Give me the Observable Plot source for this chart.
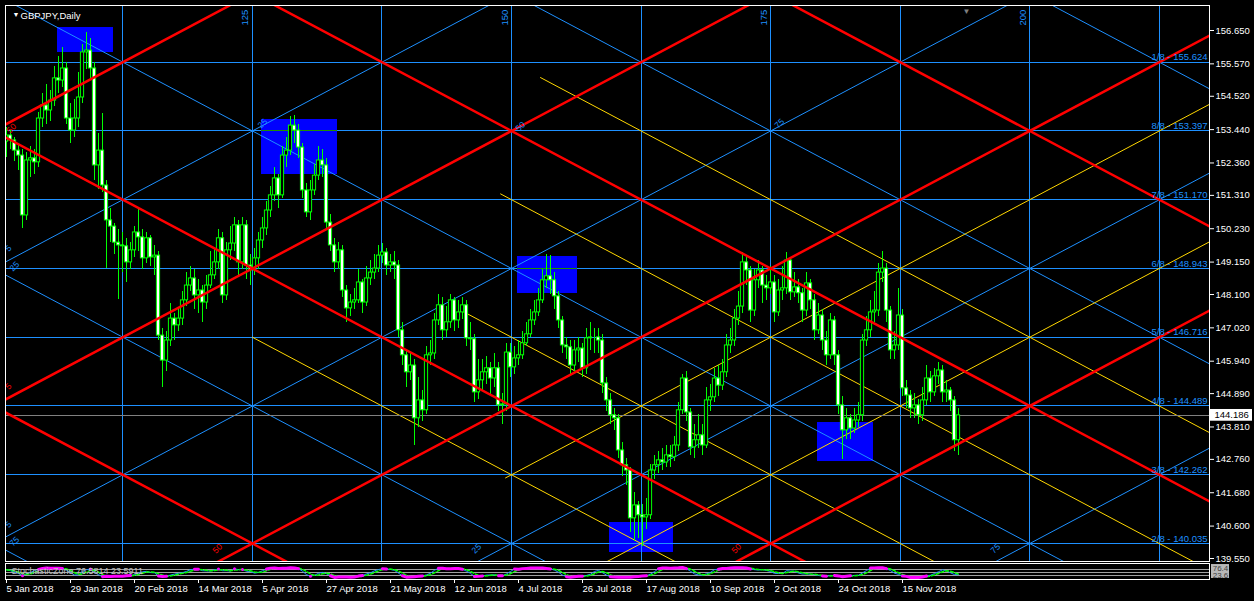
<!DOCTYPE html>
<html><head><meta charset="utf-8">
<script src="https://cdn.jsdelivr.net/npm/d3@7"></script>
<script src="https://cdn.jsdelivr.net/npm/@observablehq/plot@0.6"></script>
<style>
html,body{margin:0;padding:0;background:#000;overflow:hidden;}
#wrap{width:1254px;height:601px;overflow:hidden;background:#000;}
#wrap svg{display:block;}
</style></head><body><div id="wrap"></div>
<script>
// ---- GBPJPY daily candles (bar index 0 = 5 Jan 2018) ----
const open = [
153.05,153.25,153.09,152.76,152.60,150.66,152.44,152.51,152.38,153.80,
154.22,154.06,154.38,155.10,155.03,155.42,153.80,153.41,153.80,154.48,
155.94,156.00,155.42,152.28,152.76,151.63,150.50,150.30,149.78,149.69,
149.66,149.14,149.53,150.11,149.95,149.27,149.92,149.30,149.36,146.77,
145.96,146.61,147.32,147.10,147.32,147.91,148.39,148.62,148.07,148.23,
147.84,148.39,148.72,149.14,149.92,148.07,149.53,149.75,150.34,149.14,
150.34,149.04,148.88,149.27,149.85,150.24,150.82,151.31,151.86,151.31,
152.60,152.76,153.57,153.41,152.86,151.47,150.76,151.47,151.95,152.44,
152.28,150.43,149.69,149.14,149.53,148.23,147.65,147.84,147.91,148.49,
147.84,148.62,148.81,148.94,149.36,149.46,149.04,149.14,149.04,146.94,
146.13,145.58,145.80,144.09,144.67,144.35,146.13,146.19,147.26,147.75,
146.94,147.20,147.91,147.26,147.52,147.75,146.68,146.65,144.93,145.32,
145.58,145.71,145.38,145.71,144.51,144.54,146.22,145.74,146.03,146.13,
146.52,146.81,147.26,147.52,147.91,148.56,148.69,148.56,148.04,147.26,
146.45,146.39,145.80,146.29,146.35,145.71,146.68,146.71,146.71,146.61,
145.22,144.67,144.19,144.09,143.05,142.57,142.40,140.85,141.27,140.95,
140.88,140.95,142.40,142.57,142.73,142.66,142.89,142.83,143.21,144.35,
145.38,144.28,143.15,143.38,143.54,143.21,144.67,144.77,145.38,145.15,
145.58,146.45,146.61,147.32,147.71,149.14,148.88,147.58,148.56,148.88,
148.39,148.30,148.49,147.52,148.23,148.30,149.20,148.17,148.33,148.14,
147.58,148.46,147.91,146.94,147.42,146.61,146.13,147.26,146.13,144.51,
143.70,144.09,143.76,144.02,144.19,146.61,146.94,147.52,147.58,148.81,
148.94,147.58,146.29,146.45,147.42,145.06,144.83,144.41,144.51,144.19,
144.67,145.38,144.93,145.45,145.64,144.93,144.99,144.67,143.38];
const high = [
153.50,153.40,153.20,152.95,152.80,152.70,152.90,152.80,154.00,154.60,
154.90,154.70,155.50,155.80,156.10,155.60,154.30,154.40,155.30,156.20,
156.60,156.40,155.60,153.30,153.95,151.80,150.90,150.40,150.20,150.10,
149.90,149.80,150.30,150.90,150.20,150.10,150.00,149.70,149.50,147.00,
146.90,147.80,147.50,147.60,148.20,148.80,149.00,148.90,148.60,148.40,
148.70,149.50,149.60,150.20,150.10,149.80,150.30,150.60,150.50,150.60,
150.50,149.40,149.60,150.10,150.60,151.10,151.60,152.20,152.00,152.90,
153.20,153.85,153.90,153.60,153.00,151.70,151.80,152.30,152.90,152.80,
152.50,150.70,149.90,149.80,149.70,148.40,148.10,148.30,148.90,148.60,
149.00,149.20,149.40,149.70,149.75,149.60,149.40,149.50,149.20,147.20,
146.30,146.20,146.00,145.40,145.00,146.40,146.60,147.50,148.10,148.00,
147.70,148.10,148.00,147.90,148.00,147.90,147.20,146.80,146.00,146.00,
146.10,145.90,146.20,145.90,144.90,146.50,146.50,146.40,146.60,146.90,
147.20,147.60,147.90,148.30,148.90,149.40,149.35,148.80,148.20,147.40,
146.70,146.60,146.60,146.70,146.50,147.00,147.20,147.00,147.00,146.80,
145.40,144.90,144.40,144.20,143.30,142.80,142.50,141.70,141.40,141.30,
141.50,142.60,142.90,143.00,143.10,143.20,143.20,143.50,144.60,145.50,
145.60,144.40,143.90,144.20,143.90,145.10,145.20,145.70,145.80,146.00,
146.80,147.00,147.60,148.20,149.45,149.30,149.00,148.90,149.20,149.00,
148.70,149.00,148.70,148.60,149.00,149.45,149.30,148.80,148.60,148.30,
148.80,148.60,148.10,147.80,147.60,146.90,147.50,147.40,146.30,144.80,
144.40,144.20,144.40,144.60,146.80,147.40,147.90,148.20,149.10,149.50,
149.10,147.70,146.90,148.30,147.60,145.30,145.00,144.90,144.70,145.10,
145.80,145.60,145.70,145.90,145.80,145.30,145.10,144.80,144.40];
const low = [
152.55,152.80,152.40,152.10,150.25,150.50,151.90,152.00,152.20,153.50,
153.60,153.70,154.20,154.60,154.80,153.60,153.00,153.20,153.50,154.30,
155.40,155.10,151.80,151.50,151.40,148.95,149.80,149.40,147.95,148.80,
148.50,148.90,149.30,149.50,148.90,149.10,149.00,148.70,146.60,145.10,
145.60,146.40,146.60,146.90,147.10,147.70,148.20,147.60,147.50,147.20,
147.60,148.30,148.60,148.90,147.80,147.90,149.20,149.50,148.70,148.90,
148.60,148.40,148.70,148.90,149.60,150.00,150.60,151.10,150.90,151.20,
152.20,152.60,153.00,152.50,151.20,150.60,150.50,151.30,151.80,151.90,
150.20,149.50,148.80,148.90,148.00,147.20,147.40,147.60,147.80,147.50,
147.70,148.40,148.60,148.80,149.10,148.70,148.80,148.60,146.70,145.80,
145.10,145.30,143.20,143.80,144.00,144.20,145.80,146.00,147.10,146.60,
146.70,147.00,146.90,147.00,147.30,146.40,146.30,144.60,144.70,145.00,
145.20,144.80,145.10,144.30,143.90,144.30,145.40,145.50,145.80,146.00,
146.40,146.70,147.10,147.40,147.80,148.30,148.10,147.60,147.00,146.20,
146.00,145.50,145.60,145.90,145.40,145.50,146.30,146.20,146.20,144.90,
144.30,143.90,143.70,142.80,142.20,141.90,140.40,140.10,140.20,139.95,
140.50,140.80,142.10,142.30,142.40,142.50,142.50,142.70,143.00,144.20,
144.00,142.90,142.80,143.10,142.90,143.10,144.30,144.60,144.80,145.00,
145.40,146.20,146.40,147.10,147.50,148.40,147.20,147.40,148.30,147.80,
147.90,148.10,147.20,147.40,147.90,148.10,147.90,148.00,147.80,147.20,
147.40,147.60,146.60,146.80,146.30,145.80,146.00,145.80,144.20,142.75,
143.40,143.40,143.60,143.80,144.00,146.40,146.70,147.20,147.40,148.50,
147.20,146.00,146.00,146.30,144.80,144.40,144.10,144.10,143.90,144.00,
144.50,144.60,144.80,145.20,144.60,144.60,144.30,143.00,142.90];
const close = [
153.25,153.09,152.76,152.60,150.66,152.44,152.51,152.38,153.80,154.22,
154.06,154.38,155.10,155.03,155.42,153.80,153.41,153.80,154.48,155.94,
156.00,155.42,152.28,152.76,151.63,150.50,150.30,149.78,149.69,149.66,
149.14,149.53,150.11,149.95,149.27,149.92,149.30,149.36,146.77,145.96,
146.61,147.32,147.10,147.32,147.91,148.39,148.62,148.07,148.23,147.84,
148.39,148.72,149.14,149.92,148.07,149.53,149.75,150.34,149.14,150.34,
149.04,148.88,149.27,149.85,150.24,150.82,151.31,151.86,151.31,152.60,
152.76,153.57,153.41,152.86,151.47,150.76,151.47,151.95,152.44,152.28,
150.43,149.69,149.14,149.53,148.23,147.65,147.84,147.91,148.49,147.84,
148.62,148.81,148.94,149.36,149.46,149.04,149.14,149.04,146.94,146.13,
145.58,145.80,144.09,144.67,144.35,146.13,146.19,147.26,147.75,146.94,
147.20,147.91,147.26,147.52,147.75,146.68,146.65,144.93,145.32,145.58,
145.71,145.38,145.71,144.51,144.54,146.22,145.74,146.03,146.13,146.52,
146.81,147.26,147.52,147.91,148.56,148.69,148.56,148.04,147.26,146.45,
146.39,145.80,146.29,146.35,145.71,146.68,146.71,146.71,146.61,145.22,
144.67,144.19,144.09,143.05,142.57,142.40,140.85,141.27,140.95,140.88,
140.95,142.40,142.57,142.73,142.66,142.89,142.83,143.21,144.35,145.38,
144.28,143.15,143.38,143.54,143.21,144.67,144.77,145.38,145.15,145.58,
146.45,146.61,147.32,147.71,149.14,148.88,147.58,148.56,148.88,148.39,
148.30,148.49,147.52,148.23,148.30,149.20,148.17,148.33,148.14,147.58,
148.46,147.91,146.94,147.42,146.61,146.13,147.26,146.13,144.51,143.70,
144.09,143.76,144.02,144.19,146.61,146.94,147.52,147.58,148.81,148.94,
147.58,146.29,146.45,147.42,145.06,144.83,144.41,144.51,144.19,144.67,
145.38,144.93,145.45,145.64,144.93,144.99,144.67,143.38,144.186];

// ---- axis labels ----
const dateLabels = ["5 Jan 2018","29 Jan 2018","20 Feb 2018","14 Mar 2018","5 Apr 2018","27 Apr 2018","21 May 2018","12 Jun 2018","4 Jul 2018","26 Jul 2018","17 Aug 2018","10 Sep 2018","2 Oct 2018","24 Oct 2018","15 Nov 2018"];
const dateTickBars = [0,16,32,48,64,80,96,112,128,144,160,176,192,208,224];
const priceTicks = [156.650,155.570,154.520,153.440,152.360,151.310,150.230,149.150,148.100,147.020,145.940,144.890,143.810,142.760,141.680,140.600,139.550];

// ---- Gann grid ----
const gannLevels = [157.851,155.624,153.397,151.170,148.943,146.716,144.489,142.262,140.035,137.808];
const gannLevelNames = ["","1/8","8/8","7/8","6/8","5/8","4/8","3/8","2/8",""];
const gannTimes = [29.08,61.47,93.86,126.25,158.64,191.03,223.42,255.81,288.20];
const gannTimeNames = ["","125","","150","","175","","200",""];
const gridT0 = 29.08, gridDT = 32.39, gridL0 = 155.624, gridDL = 2.227;
const redUp = [0,4,8,12], redDown = [-6,-2,2,6];
const blueUp = [2,6,10,14], blueDown = [-8,-4,0,4,8];
const yellowDir = [-1,-1,-1,-1,1,1];
const yellowIdx = [-3,-1,1,3,9,11];
const yellowFrom = [1,2.607,2.916,3.224,2.954,3.6];

// ---- rectangles ----
const boxT1 = [12.75,63.75,127.75,150.75,202.75];
const boxT2 = [26.75,82.75,142.75,166.75,216.75];
const boxP1 = [155.937,151.986,148.133,139.744,142.691];
const boxP2 = [156.747,153.768,149.331,140.716,143.954];
const boxMarkLevel = [null,153.397,148.943,null,null];

// ---- small grid annotations ----
const noteText = ["25","50","75","5","25","50","5","5","75","50","25","50","75"];
const noteT = [64,128.5,193.25,0.5,2,1.25,0.5,0.5,2,52.75,117.5,182.5,247.25];
const noteP = [153.64,153.54,153.64,149.59,149.01,153.48,145.12,140.65,140.10,139.87,139.87,139.87,139.87];
const noteRed = [0,0,0,0,0,1,1,0,0,1,0,1,0];

// ---- stochastic zone sub-window ----
const stochLevels = [76.4,50,23.6];

const BLUE = "#1E90FF", RED = "#FF0000", GOLD = "#FFD700", LIME = "#00FF00";
const FONT = "'Liberation Sans', Arial, sans-serif";

function diagLine(dir, idx, c0, c1, id) {
  return [c0, c1].map(c => ({id, t: gridT0 + c * gridDT,
    p: gridL0 - (dir > 0 ? idx - c : c - idx) * gridDL}));
}
const redRows = [...redUp.map(k => diagLine(1, k, -2, 10, "ru" + k)),
                 ...redDown.map(m => diagLine(-1, m, -2, 10, "rd" + m))].flat();
const blueRows = [...blueUp.map(k => diagLine(1, k, -2, 10, "bu" + k)),
                  ...blueDown.map(m => diagLine(-1, m, -2, 10, "bd" + m))].flat();
const yellowRows = yellowIdx.map((k, i) => diagLine(yellowDir[i], k, yellowFrom[i], 10, "y" + i)).flat();

const bars = close.map((c, i) => ({i, o: open[i], h: high[i], l: low[i], c}));
const boxes = boxT1.map((t, i) => ({t1: t, t2: boxT2[i], p1: boxP1[i], p2: boxP2[i], lv: boxMarkLevel[i]}));
const lvlRows = gannLevels.map((v, i) => ({v, name: gannLevelNames[i]})).filter(d => d.name);
const timeRows = gannTimes.map((t, i) => ({t, name: gannTimeNames[i]})).filter(d => d.name);
const notes = noteText.map((s, i) => ({s, t: noteT[i], p: noteP[i], red: noteRed[i]}));
const last = close[close.length - 1];

const main = Plot.plot({
  width: 1254, height: 562,
  marginLeft: 5, marginRight: 45, marginTop: 5, marginBottom: 1,
  x: {type: "linear", domain: [0, 300], range: [6, 1206], axis: null, label: null},
  y: {type: "linear", domain: [139.55, 156.65], range: [558, 30], axis: null, label: null},
  style: {background: "#000", color: "#fff", fontFamily: FONT, fontSize: "9.5px", overflow: "visible"},
  marks: [
    Plot.rect(boxes, {x1: "t1", x2: "t2", y1: "p1", y2: "p2", fill: "#0000FF"}),
    Plot.ruleY(gannLevels, {stroke: BLUE, strokeWidth: 1, shapeRendering: "crispEdges", clip: true}),
    Plot.ruleX(gannTimes, {stroke: BLUE, strokeWidth: 1, shapeRendering: "crispEdges", clip: true}),
    Plot.line(blueRows, {x: "t", y: "p", z: "id", stroke: BLUE, strokeWidth: 1, clip: true}),
    Plot.line(yellowRows, {x: "t", y: "p", z: "id", stroke: GOLD, strokeWidth: 1, clip: true}),
    Plot.ruleY(boxes.filter(d => d.lv), {y: "lv", x1: "t1", x2: "t2", stroke: "#1E9000", shapeRendering: "crispEdges"}),
    Plot.ruleY([last], {stroke: "#808080", shapeRendering: "crispEdges", clip: true}),
    Plot.ruleX(bars, {x: "i", y1: "l", y2: "h", stroke: LIME, strokeWidth: 1, shapeRendering: "crispEdges", clip: true}),
    Plot.rect(bars, {x1: d => d.i - 0.4, x2: d => d.i + 0.4,
      y1: d => Math.min(d.o, d.c), y2: d => Math.max(d.o, d.c),
      fill: d => d.c >= d.o ? "#000" : "#fff", stroke: LIME, strokeWidth: 1, clip: true}),
    Plot.line(redRows, {x: "t", y: "p", z: "id", stroke: RED, strokeWidth: 2.5, clip: true}),
    Plot.text(lvlRows, {x: 300, y: "v", text: d => d.name + " - " + d.v.toFixed(3),
      textAnchor: "end", dx: 1, dy: -5, fill: BLUE, fontSize: 9.5}),
    Plot.text(timeRows, {x: "t", y: 157.07, text: "name", rotate: -90, dx: -7, fill: BLUE, fontSize: 9.5}),
    Plot.text(notes, {x: "t", y: "p", text: "s", rotate: -45, fill: d => d.red ? RED : BLUE, fontSize: 8.5}),
    Plot.text(["GBPJPY,Daily"], {frameAnchor: "top-left", dx: 15, dy: 7, textAnchor: "start", fill: "#fff", fontSize: 9.5}),
    Plot.text(["\u25BC"], {frameAnchor: "top-left", dx: 7, dy: 7, fill: "#fff", fontSize: 7}),
    Plot.text(["\u25BC"], {x: 240, frameAnchor: "top", dy: 3, fill: "#808080", fontSize: 8}),
    Plot.axisY(priceTicks, {anchor: "right", label: null, tickFormat: d => d.toFixed(3), tickSize: 4, tickPadding: 2,
      stroke: "#fff", fill: "#fff", fontSize: 9.5}),
    Plot.rect([last], {x1: 301, x2: 311.5, y1: d => d - 0.19, y2: d => d + 0.19, fill: "#fff"}),
    Plot.text([last], {x: 301, y: d => d, dx: 4, text: d => d.toFixed(3), textAnchor: "start", fill: "#000", fontSize: 9.5}),
    Plot.frame({stroke: "#fff", strokeWidth: 1, shapeRendering: "crispEdges"})
  ]
});

// stochastic oscillator derived from the candles above
const kLen = 8, slow = 3;
const raw = close.map((c, i) => {
  const a = Math.max(0, i - kLen + 1);
  const hh = d3.max(high.slice(a, i + 1)), ll = d3.min(low.slice(a, i + 1));
  return {num: c - ll, den: hh - ll};
});
const K = raw.map((_, i) => {
  const seg = raw.slice(Math.max(0, i - slow + 1), i + 1);
  const sd = d3.sum(seg, d => d.den);
  return sd ? 100 * d3.sum(seg, d => d.num) / sd : 50;
});
const D = K.map((_, i) => d3.mean(K.slice(Math.max(0, i - 2), i + 1)));
const stoch = K.map((k, i) => ({i, k, d: D[i], z: (k >= 76.4 || k <= 23.6) ? k : NaN}));

const strip = Plot.plot({
  width: 1254, height: 39,
  marginLeft: 5, marginRight: 45, marginTop: 1, marginBottom: 22,
  x: {type: "linear", domain: [0, 300], range: [6, 1206], axis: null, label: null},
  y: {type: "linear", domain: [0, 100], range: [15.68, 4.32], axis: null, label: null},
  style: {background: "#000", color: "#fff", fontFamily: FONT, fontSize: "9.5px", overflow: "hidden"},
  marks: [
    Plot.ruleY(stochLevels, {stroke: "#A0A0A0", shapeRendering: "crispEdges"}),
    Plot.line(stoch, {x: "i", y: "k", stroke: BLUE, strokeWidth: 1, clip: true}),
    Plot.line(stoch, {x: "i", y: "d", stroke: LIME, strokeWidth: 1.5, strokeDasharray: "3,2", clip: true}),
    Plot.line(stoch, {x: "i", y: "z", stroke: "#FF00FF", strokeWidth: 3, clip: true}),
    Plot.text(["StochasticZone 76.5814 23.5911"], {frameAnchor: "left", dx: 6, fill: "#C0C0C0", fontSize: 9, textAnchor: "start"}),
    Plot.rect([{a: 120, b: 58.8}, {a: 58.8, b: -2.8}], {x1: 301.25, x2: 305.75, y1: "b", y2: "a", fill: "#B8B8B8"}),
    Plot.text([{v: 76.4, y: 89.6}, {v: 23.6, y: 28}], {x: 303.5, y: "y", text: d => d.v.toFixed(1), fill: "#404040", fontSize: 8}),
    Plot.frame({stroke: "#fff", strokeWidth: 1, shapeRendering: "crispEdges"}),
    Plot.axisX(dateTickBars, {anchor: "bottom", label: null, tickFormat: d => dateLabels[dateTickBars.indexOf(d)],
      textAnchor: "start", tickSize: 4, tickPadding: 2, stroke: "#fff", fill: "#fff", fontSize: 9.5})
  ]
});

const wrap = document.getElementById("wrap");
wrap.appendChild(main);
wrap.appendChild(strip);
</script>
</body></html>
